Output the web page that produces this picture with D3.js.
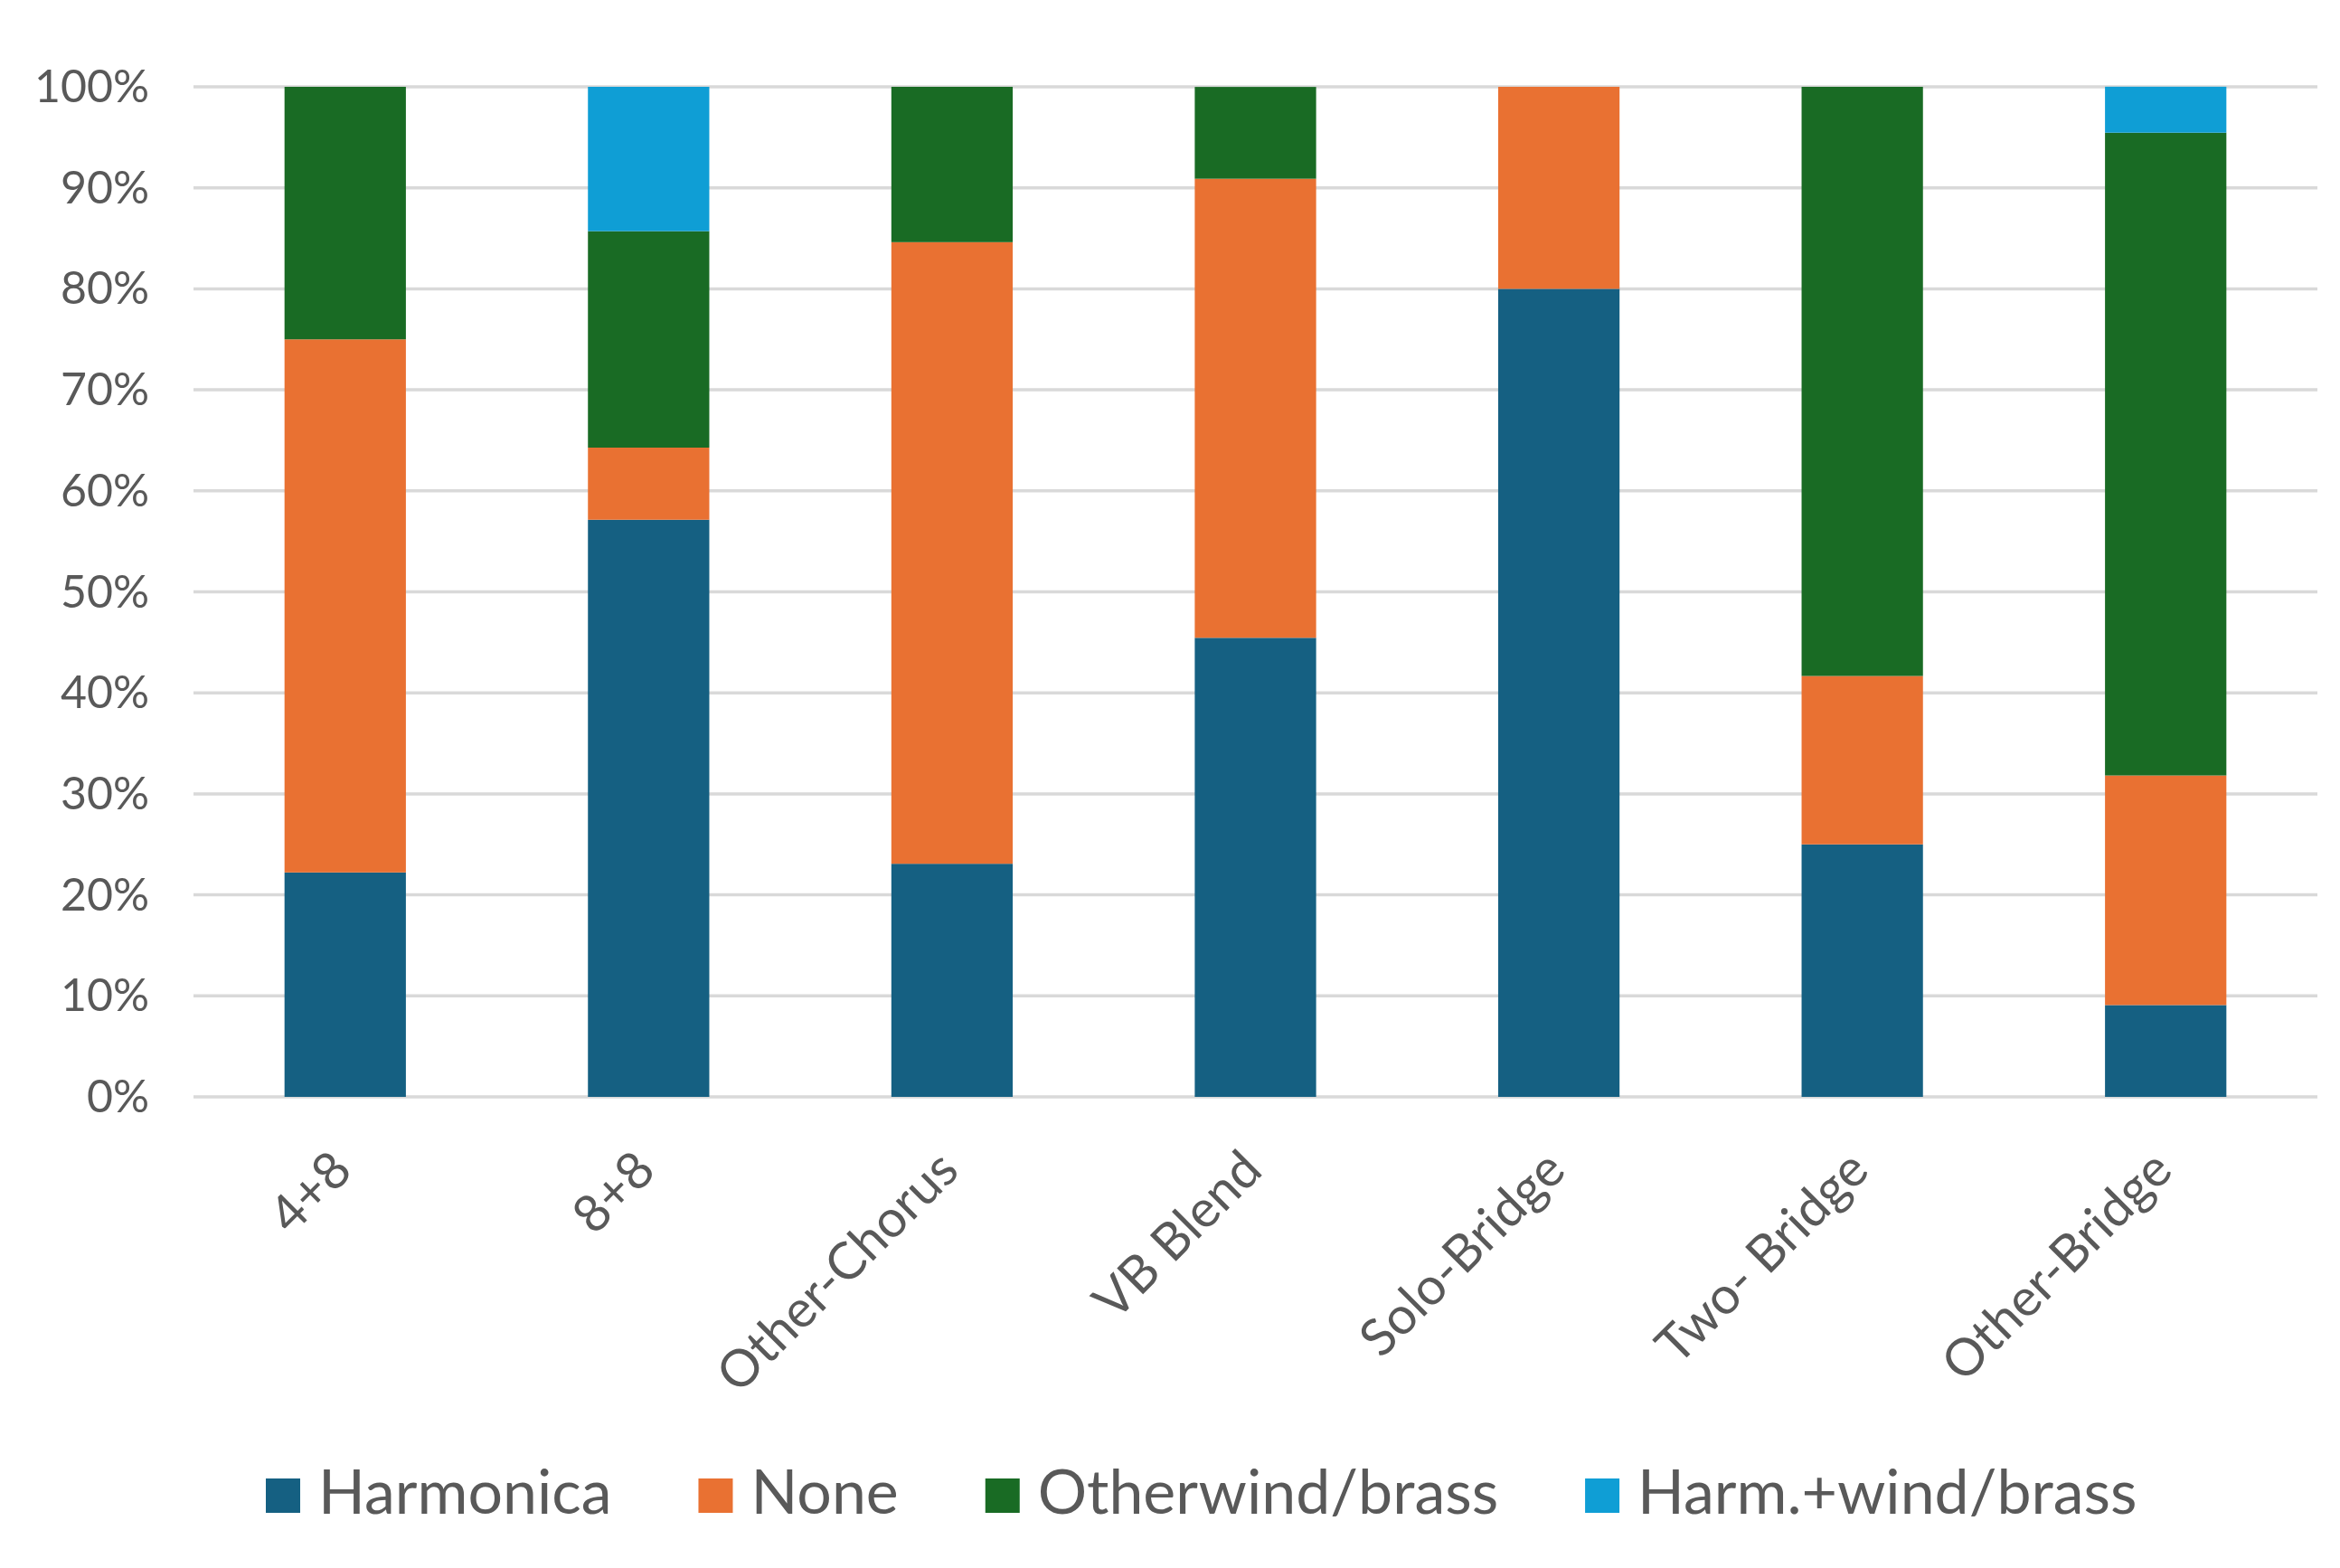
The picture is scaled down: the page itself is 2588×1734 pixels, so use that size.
<!DOCTYPE html>
<html>
<head>
<meta charset="utf-8">
<script src="https://cdn.jsdelivr.net/npm/d3@7"></script>
<style>
  html, body { margin: 0; padding: 0; background: #fff; }
  svg { display: block; }
</style>
</head>
<body>
<svg width="2588" height="1734"></svg>
<script>
// share of each accompaniment type per song form
var categories = ["4+8", "8+8", "Other-Chorus", "VB Blend", "Solo-Bridge", "Two- Bridge", "Other-Bridge"];
var seriesNames = ["Harmonica", "None", "Other wind/brass", "Harm.+wind/brass"];
var harmonica = [0.2222, 0.5714, 0.2308, 0.4545, 0.80, 0.25, 0.0909];
var none      = [0.5278, 0.0714, 0.6154, 0.4545, 0.20, 0.1667, 0.2273];
var otherWind = [0.25,   0.2143, 0.1538, 0.0909, 0.00, 0.5833, 0.6364];
var harmWind  = [0.00,   0.1429, 0.00,   0.00,   0.00, 0.00,   0.0455];
var yTicks = [0, 0.1, 0.2, 0.3, 0.4, 0.5, 0.6, 0.7, 0.8, 0.9, 1.0];

var colors = ["#156082", "#E97132", "#196B24", "#0F9ED5"];
var textColor = "#595959";

var rows = categories.map(function(c, i) {
  return { cat: c, "Harmonica": harmonica[i], "None": none[i],
           "Other wind/brass": otherWind[i], "Harm.+wind/brass": harmWind[i] };
});

var svg = d3.select("svg");
var plotLeft = 214, plotRight = 2563, plotTop = 96, plotBottom = 1213;

var x = d3.scaleBand()
    .domain(categories)
    .range([plotLeft, plotRight])
    .paddingInner(0.6)
    .paddingOuter(0.3);

var y = d3.scaleLinear()
    .domain([0, 1])
    .range([plotBottom, plotTop]);

// gridlines
svg.append("g")
  .selectAll("line")
    .data(yTicks)
  .enter().append("line")
    .attr("x1", plotLeft)
    .attr("x2", plotRight)
    .attr("y1", function(d) { return y(d); })
    .attr("y2", function(d) { return y(d); })
    .attr("stroke", "#D9D9D9")
    .attr("stroke-width", 3.5);

// y tick labels
svg.append("g")
  .selectAll("text")
    .data(yTicks)
  .enter().append("text")
    .attr("x", 165)
    .attr("y", function(d) { return y(d) + 17; })
    .attr("text-anchor", "end")
    .attr("font-family", "Lato")
    .attr("font-size", 50)
    .attr("fill", textColor)
    .text(d3.format(".0%"));

var stack = d3.stack().keys(seriesNames);
var layers = stack(rows);

svg.append("g")
  .selectAll("g")
    .data(layers)
  .enter().append("g")
    .attr("fill", function(d, i) { return colors[i]; })
  .selectAll("rect")
    .data(function(d) { return d; })
  .enter().append("rect")
    .attr("x", function(d) { return x(d.data.cat); })
    .attr("width", x.bandwidth())
    .attr("y", function(d) { return y(d[1]); })
    .attr("height", function(d) { return y(d[0]) - y(d[1]); });

// rotated category labels
svg.append("g")
  .selectAll("text")
    .data(categories)
  .enter().append("text")
    .attr("transform", function(d) {
      return "translate(" + (x(d) + x.bandwidth() / 2 + 10) + "," + 1297 + ")rotate(-45)";
    })
    .attr("text-anchor", "end")
    .attr("font-family", "Lato")
    .attr("font-size", 57)
    .attr("fill", textColor)
    .text(function(d) { return d; });

// legend
var legend = svg.append("g");
var lx = 294;
seriesNames.forEach(function(name, i) {
  legend.append("rect")
    .attr("x", lx)
    .attr("y", 1635)
    .attr("width", 38)
    .attr("height", 38)
    .attr("fill", colors[i]);
  var t = legend.append("text")
    .attr("x", lx + 58)
    .attr("y", 1674)
    .attr("font-family", "Lato")
    .attr("font-size", 68)
    .attr("word-spacing", -14)
    .attr("fill", textColor)
    .text(name);
  lx = lx + 58 + t.node().getComputedTextLength() + 96;
});
</script>
</body>
</html>
